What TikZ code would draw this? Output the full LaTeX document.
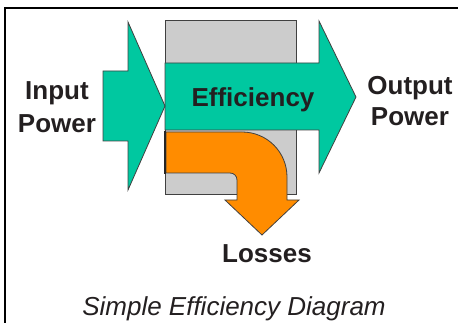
\documentclass[tikz,border=0pt]{standalone}
\usepackage{fontspec}
\setmainfont{Liberation Sans}
\usetikzlibrary{positioning}
\usetikzlibrary{calc}

\definecolor{effteal}{RGB}{0,200,160}
\definecolor{lossorange}{RGB}{255,140,0}
\definecolor{boxgrey}{RGB}{204,204,204}
\definecolor{inkgrey}{RGB}{35,31,32}

\begin{document}
\begin{tikzpicture}[x=1pt,y=-1pt,
		lbl/.style={text=inkgrey,font=\fontsize{26}{33}\selectfont\bfseries,inner sep=0pt,anchor=base},
		captxt/.style={text=inkgrey,font=\fontsize{26}{33}\selectfont\itshape,inner sep=0pt,anchor=base},
		blk/.style={draw=black!75,line width=.8pt,line join=miter}]
		\useasboundingbox (0,0) rectangle (458,323);
		\draw[line width=2.5pt] (5,323) -- (5,8) -- (458,8);
		% machine body
		\draw[blk,fill=boxgrey] (165,20) rectangle (296,194);
		% efficiency arrow
		\draw[blk,fill=effteal] (165,63) -- (319,63) -- (319,21) -- (356,97) -- (319,173) -- (319,130) -- (165,130) -- cycle;
		% losses arrow
		\draw[blk,fill=lossorange] (166,132) -- (242,132) .. controls (267,132) and (287,152) .. (287,177) -- (287,200) -- (299,200) -- (262,235) -- (225,200) -- (237,200) -- (237,180) .. controls (237,176) and (234,173) .. (230,173) -- (166,173) -- cycle;
		\draw[line width=1.6pt,black!85] (165,131) -- (165,174);
		% input arrow
		\draw[blk,fill=effteal] (103,71) -- (128,71) -- (128,22) -- (165,106) -- (128,190) -- (128,141) -- (103,141) -- cycle;
		\node[lbl] (input) at (57,100) {Input};
		\node[lbl] (inpow) at ($(input.base)+(0,33)$) {Power};
		\node[lbl] (eff) at (253,107) {Efficiency};
		\node[lbl] (output) at (410,95) {Output};
		\node[lbl] (outpow) at ($(output.base)+(0,31)$) {Power};
		\node[lbl] (loss) at (267,263) {Losses};
		\node[captxt] (title) at (234,315) {Simple Efficiency Diagram};
	\end{tikzpicture}
\end{document}
